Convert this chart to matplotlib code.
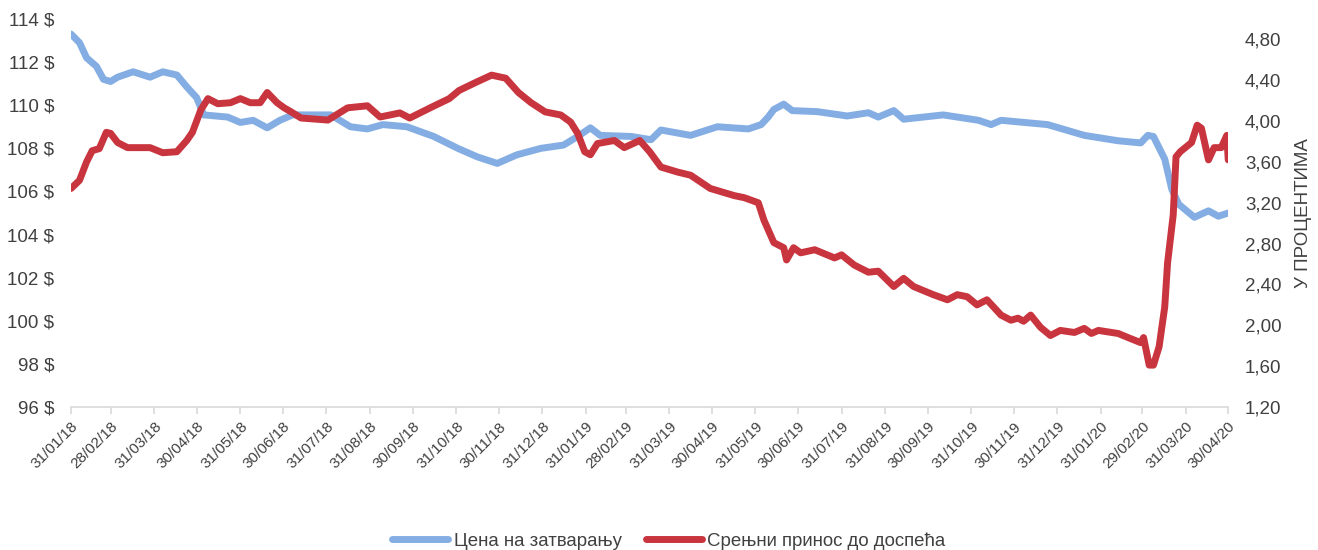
import numpy as np
import pandas as pd
import matplotlib
matplotlib.use("Agg")
import matplotlib.pyplot as plt
from matplotlib.ticker import FixedLocator, FuncFormatter

plt.rcParams['font.family'] = ['Liberation Sans', 'DejaVu Sans']

# closing price (left axis, $)
price_dates = ["2018-01-31", "2018-02-06", "2018-02-11", "2018-02-18", "2018-02-23", "2018-02-28",
               "2018-03-05", "2018-03-16", "2018-03-28", "2018-04-06", "2018-04-16", "2018-04-23",
               "2018-04-30", "2018-05-05", "2018-05-22", "2018-05-31", "2018-06-09", "2018-06-19",
               "2018-06-28", "2018-07-07", "2018-08-03", "2018-08-17", "2018-08-29", "2018-09-09",
               "2018-09-26", "2018-10-15", "2018-11-01", "2018-11-15", "2018-11-29", "2018-12-13",
               "2018-12-30", "2019-01-15", "2019-01-25", "2019-02-03", "2019-02-10", "2019-03-04",
               "2019-03-18", "2019-03-25", "2019-04-15", "2019-05-04", "2019-05-26", "2019-06-04",
               "2019-06-09", "2019-06-13", "2019-06-20", "2019-06-26", "2019-07-14", "2019-08-04",
               "2019-08-19", "2019-08-26", "2019-09-06", "2019-09-13", "2019-10-11", "2019-11-05",
               "2019-11-14", "2019-11-21", "2019-12-24", "2020-01-19", "2020-02-12", "2020-02-28",
               "2020-03-04", "2020-03-08", "2020-03-16", "2020-03-21", "2020-03-26", "2020-04-06",
               "2020-04-16", "2020-04-23", "2020-04-30"]
price = [113.3, 112.9, 112.2, 111.8, 111.2, 111.1,
         111.3, 111.55, 111.3, 111.55, 111.4, 110.85,
         110.35, 109.55, 109.45, 109.2, 109.3, 108.95,
         109.3, 109.55, 109.55, 109.0, 108.9, 109.1,
         109.0, 108.55, 108.0, 107.6, 107.3, 107.7,
         108.0, 108.15, 108.55, 108.95, 108.6, 108.55,
         108.4, 108.85, 108.6, 109.0, 108.9, 109.1,
         109.45, 109.8, 110.05, 109.75, 109.7, 109.5,
         109.65, 109.45, 109.75, 109.35, 109.55, 109.3,
         109.1, 109.3, 109.1, 108.6, 108.35, 108.25,
         108.6, 108.55, 107.5, 106.1, 105.4, 104.8,
         105.1, 104.85, 105.0]

# yield to maturity (right axis, %)
ytm_dates = ["2018-01-31", "2018-02-06", "2018-02-11", "2018-02-15", "2018-02-20", "2018-02-25",
             "2018-02-28", "2018-03-05", "2018-03-12", "2018-03-21", "2018-03-28", "2018-04-06",
             "2018-04-16", "2018-04-23", "2018-04-27", "2018-05-03", "2018-05-08", "2018-05-15",
             "2018-05-24", "2018-05-31", "2018-06-07", "2018-06-14", "2018-06-19", "2018-06-26",
             "2018-07-01", "2018-07-06", "2018-07-13", "2018-08-01", "2018-08-15", "2018-08-29",
             "2018-09-07", "2018-09-21", "2018-09-28", "2018-10-14", "2018-10-26", "2018-11-02",
             "2018-11-14", "2018-11-25", "2018-12-05", "2018-12-14", "2018-12-23", "2019-01-02",
             "2019-01-13", "2019-01-20", "2019-01-25", "2019-01-30", "2019-02-03", "2019-02-08",
             "2019-02-20", "2019-02-27", "2019-03-10", "2019-03-17", "2019-03-25", "2019-04-06",
             "2019-04-15", "2019-04-29", "2019-05-16", "2019-05-23", "2019-06-02", "2019-06-06",
             "2019-06-13", "2019-06-20", "2019-06-22", "2019-06-27", "2019-07-02", "2019-07-12",
             "2019-07-26", "2019-07-31", "2019-08-09", "2019-08-19", "2019-08-26", "2019-09-06",
             "2019-09-13", "2019-09-20", "2019-10-04", "2019-10-14", "2019-10-21", "2019-10-28",
             "2019-11-04", "2019-11-11", "2019-11-21", "2019-11-28", "2019-12-03", "2019-12-07",
             "2019-12-12", "2019-12-19", "2019-12-26", "2020-01-02", "2020-01-12", "2020-01-19",
             "2020-01-24", "2020-01-29", "2020-02-12", "2020-02-19", "2020-02-28", "2020-03-01",
             "2020-03-05", "2020-03-08", "2020-03-12", "2020-03-16", "2020-03-18", "2020-03-22",
             "2020-03-24", "2020-03-27", "2020-04-04", "2020-04-08", "2020-04-11", "2020-04-16",
             "2020-04-20", "2020-04-25", "2020-04-29", "2020-04-30"]
ytm = [3.34, 3.42, 3.60, 3.71, 3.73, 3.89,
       3.88, 3.79, 3.74, 3.74, 3.74, 3.69,
       3.70, 3.81, 3.89, 4.11, 4.22, 4.17,
       4.18, 4.22, 4.18, 4.18, 4.28, 4.18,
       4.13, 4.09, 4.03, 4.01, 4.13, 4.15,
       4.04, 4.08, 4.03, 4.14, 4.22, 4.30,
       4.38, 4.45, 4.42, 4.28, 4.18, 4.09,
       4.06, 3.99, 3.88, 3.70, 3.67, 3.78,
       3.81, 3.74, 3.81, 3.70, 3.55, 3.50,
       3.47, 3.34, 3.27, 3.25, 3.20, 3.03,
       2.81, 2.76, 2.64, 2.76, 2.71, 2.74,
       2.66, 2.69, 2.59, 2.52, 2.53, 2.38,
       2.46, 2.38, 2.30, 2.25, 2.30, 2.28,
       2.20, 2.25, 2.10, 2.05, 2.07, 2.04,
       2.10, 1.98, 1.90, 1.95, 1.93, 1.97,
       1.92, 1.95, 1.92, 1.88, 1.83, 1.88,
       1.61, 1.61, 1.79, 2.18, 2.61, 3.08,
       3.65, 3.70, 3.79, 3.96, 3.93, 3.62,
       3.74, 3.74, 3.86, 3.62]

tick_dates = pd.date_range("2018-01-31", "2020-04-30", freq="ME")
price_label = "Цена на затварању"
ytm_label = "Срењни принос до доспећа"

blue = "#84AEE3"
red = "#C9353E"
txt = "#404040"

fig = plt.figure(figsize=(13.18, 5.5), dpi=100)
ax = fig.add_axes([0.0539, 0.26, 0.878, 0.7055])
ax2 = ax.twinx()

l1, = ax.plot(pd.to_datetime(price_dates), price, color=blue, lw=5, solid_capstyle="round",
              solid_joinstyle="round", label=price_label)
l2, = ax2.plot(pd.to_datetime(ytm_dates), ytm, color=red, lw=5, solid_capstyle="round",
               solid_joinstyle="round", label=ytm_label)

ax.set_xlim(tick_dates[0], tick_dates[-1])
ax.set_ylim(96, 114)
ax2.set_ylim(1.2, 5.0)

ax.set_yticks(np.arange(96, 115, 2))
ax.yaxis.set_major_formatter(FuncFormatter(lambda v, p: "{:.0f} $".format(v)))
ax2.yaxis.set_major_locator(FixedLocator(np.arange(1.2, 4.81, 0.4)))
ax2.yaxis.set_major_formatter(FuncFormatter(lambda v, p: "{:.2f}".format(v).replace(".", ",")))

ax.set_xticks(tick_dates)
ax.set_xticklabels([d.strftime("%d/%m/%y") for d in tick_dates], rotation=45, ha="right",
                   rotation_mode="anchor", fontsize=11, color=txt)

for a in (ax, ax2):
    for s in a.spines.values():
        s.set_visible(False)
ax.spines["bottom"].set_visible(True)
ax.spines["bottom"].set_color("#D9D9D9")
ax.spines["bottom"].set_linewidth(1.2)
ax.tick_params(axis="x", length=5, width=1.2, color="#D9D9D9", pad=4)
ax.tick_params(axis="y", length=0, labelsize=13.5, labelcolor=txt, pad=12)
ax2.tick_params(axis="y", length=0, labelsize=13.5, labelcolor=txt, pad=12)
ax2.set_ylabel("У ПРОЦЕНТИМА", fontsize=13.5, color=txt, labelpad=10)

fig.legend([l1, l2], [price_label, ytm_label], loc="center", bbox_to_anchor=(0.5076, 0.016),
           ncol=2, frameon=False, fontsize=13.4, handlelength=3.0, handletextpad=0.3,
           columnspacing=1.3, labelcolor=txt)

fig.savefig("out.png", dpi=100)
